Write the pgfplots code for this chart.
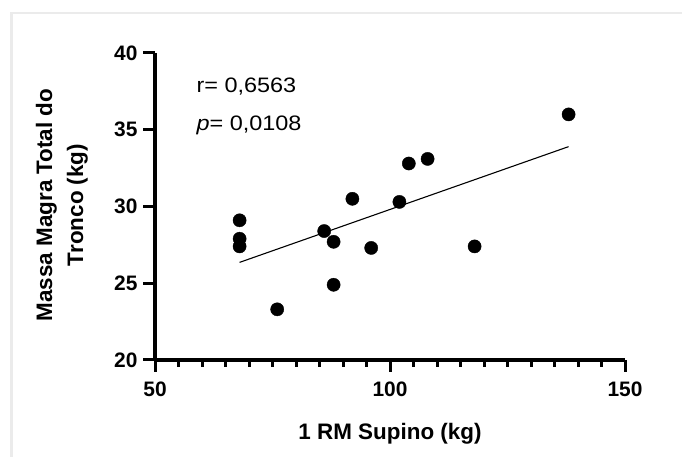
\documentclass[border=0pt]{standalone}
\usepackage{pgfplots}
\pgfplotsset{compat=1.18}
\usepackage{fontspec}
\setmainfont{Liberation Sans}
\newfontfamily\rfont[FakeStretch=1.12]{Liberation Sans}
\definecolor{framegray}{RGB}{235,235,235}
\begin{document}
\begin{tikzpicture}[x=1bp,y=1bp]
\useasboundingbox (0,0) rectangle (682,457);
\fill[white] (0,0) rectangle (682,457);
\draw[framegray, line width=2.5bp] (11.5,-5) -- (11.5,444) -- (690,444);
\begin{axis}[
  at={(155bp,97bp)}, anchor=south west,
  scale only axis, width=470bp, height=307bp,
  xmin=50, xmax=150, ymin=20, ymax=40,
  axis x line*=bottom, axis y line*=left,
  axis line style={line width=3.3bp, -},
  xtick={50,100,150}, ytick={20,25,30,35,40},
  minor x tick num=9,
  tick align=outside,
  major tick length=12bp, minor tick length=7bp,
  every tick/.style={black, line width=3bp},
  /pgf/number format/assume math mode=true,
  tick label style={font=\bfseries\fontsize{21}{21}\selectfont},
  xticklabel style={yshift=-6bp},
  yticklabel style={xshift=-2bp},
  clip=false,
]
\addplot[only marks, mark=*, mark size=6.6bp, black] coordinates {
  (68,29.1) (68,27.9) (68,27.4) (76,23.3) (86,28.4) (88,27.7) (88,24.9)
  (92,30.5) (96,27.3) (102,30.3) (104,32.8) (108,33.1) (118,27.4) (138,36.0)
};
\addplot[black, line width=1.1bp] coordinates {(68,26.36) (138,33.9)};
\node[anchor=base west, inner sep=0pt, font=\rfont\fontsize{21}{21}\selectfont] at (axis cs:58.8,37.40) {r= 0,6563};
\node[anchor=base west, inner sep=0pt, font=\rfont\fontsize{21}{21}\selectfont] at (axis cs:58.8,34.98) {\textit{p}= 0,0108};
\end{axis}
\node[anchor=base, font=\bfseries\fontsize{22.5}{22.5}\selectfont] at (390,17) {1 RM Supino (kg)};
\node[rotate=90, anchor=base, font=\bfseries\fontsize{22.5}{22.5}\selectfont] at (52,252) {Massa Magra Total do};
\node[rotate=90, anchor=base, font=\bfseries\fontsize{22.5}{22.5}\selectfont] at (83,252) {Tronco (kg)};
\end{tikzpicture}
\end{document}
